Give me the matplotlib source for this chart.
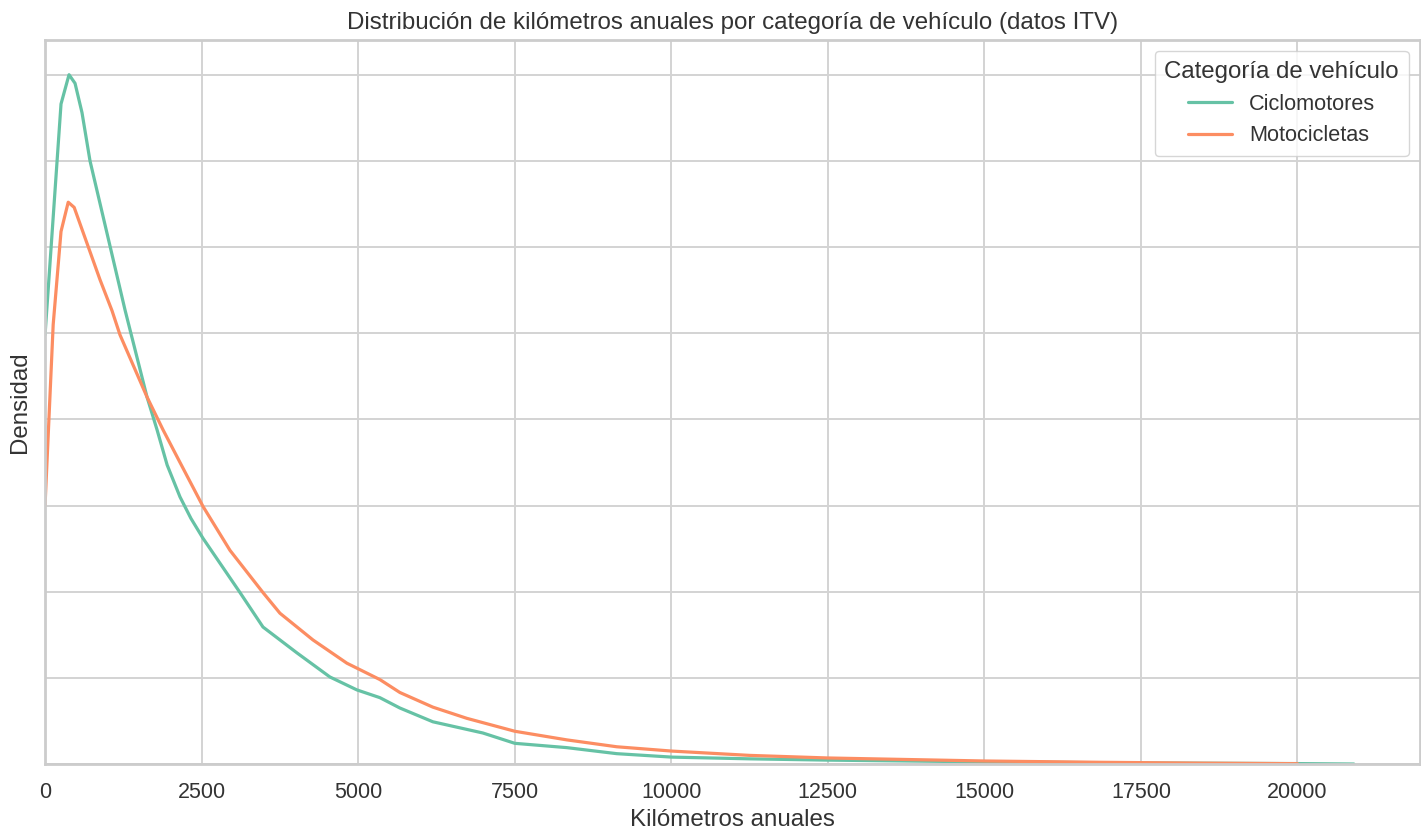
import matplotlib
matplotlib.use("Agg")
import matplotlib.pyplot as plt
import seaborn as sns
from matplotlib.ticker import MultipleLocator

# densidades (km anuales -> densidad)
km_ciclo = [0, 255, 383, 479, 590, 718, 1277, 1628, 1788, 1950, 2155, 2330, 2522,
            3113, 3480, 4022, 4549, 4980, 5347, 5666, 6193, 6991, 7502, 8332,
            9130, 10008, 11253, 12500, 15000, 17500, 20000, 20900]
dens_ciclo = [0.000249, 0.000383, 0.000400, 0.000395, 0.000378, 0.000350, 0.0002635,
              0.000213, 0.000194, 0.0001735, 0.000155, 0.0001425, 0.000131,
              0.0000995, 0.0000795, 0.0000645, 0.0000505, 0.000043, 0.0000385,
              0.0000325, 0.0000245, 0.000018, 0.000012, 0.0000095,
              0.000006, 0.000004, 0.000003, 0.00000225, 0.00000125, 0.0000006,
              0.00000025, 0.0]

km_moto = [0, 130, 255, 370, 465, 878, 1070, 1197, 1628, 1883, 2155, 2522, 2953,
           3480, 3751, 4278, 4820, 5347, 5666, 6193, 6736, 7502, 8332, 9130,
           10008, 11253, 12500, 15000, 16840, 18500, 20000]
dens_moto = [0.000150, 0.000255, 0.000309, 0.000326, 0.000323, 0.000281, 0.000263,
             0.000249, 0.000213, 0.000194, 0.000175, 0.0001495, 0.000124,
             0.0000995, 0.0000875, 0.000072, 0.0000585, 0.000049, 0.0000415,
             0.000033, 0.0000265, 0.000019, 0.000014, 0.00001,
             0.0000075, 0.000005, 0.0000035, 0.00000175, 0.000001, 0.0000005,
             0.0000002]

sns.set_theme(style="whitegrid")
plt.rcParams['font.family'] = ['Liberation Sans', 'DejaVu Sans']
colores = sns.color_palette("Set2")

fig = plt.figure(figsize=(14.21, 8.38), dpi=100)
ax = fig.add_axes([0.0317, 0.0883, 0.9673, 0.8637])

ax.plot(km_ciclo, dens_ciclo, color=colores[0], lw=2.3, label='Ciclomotores')
ax.plot(km_moto, dens_moto, color=colores[1], lw=2.3, label='Motocicletas')

ax.set_xlim(0, 21950)
ax.set_ylim(0, 0.00042)
ax.xaxis.set_major_locator(MultipleLocator(2500))
ax.yaxis.set_major_locator(MultipleLocator(0.00005))
ax.set_yticklabels([])
ax.tick_params(axis='x', labelsize=15.5, colors='#333333', pad=7)
ax.tick_params(axis='y', length=0, pad=0)
ax.grid(True, color='#d3d3d3', lw=1.4)
for sp in ax.spines.values():
    sp.set_color('#cccccc')
    sp.set_linewidth(2)

ax.set_title("Distribución de kilómetros anuales por categoría de vehículo (datos ITV)",
             fontsize=17.4, color='#333333', pad=8)
ax.set_xlabel("Kilómetros anuales", fontsize=17.4, color='#333333', labelpad=4)
ax.set_ylabel("Densidad", fontsize=17.4, color='#333333', labelpad=10)

leg = ax.legend(title="Categoría de vehículo", loc='upper right', fontsize=15.6,
                title_fontsize=17.3, frameon=True, borderpad=0.45)
leg.get_frame().set_edgecolor('#cccccc')
leg.get_title().set_color('#333333')
for t in leg.get_texts():
    t.set_color('#333333')

fig.savefig("out.png", dpi=100)
